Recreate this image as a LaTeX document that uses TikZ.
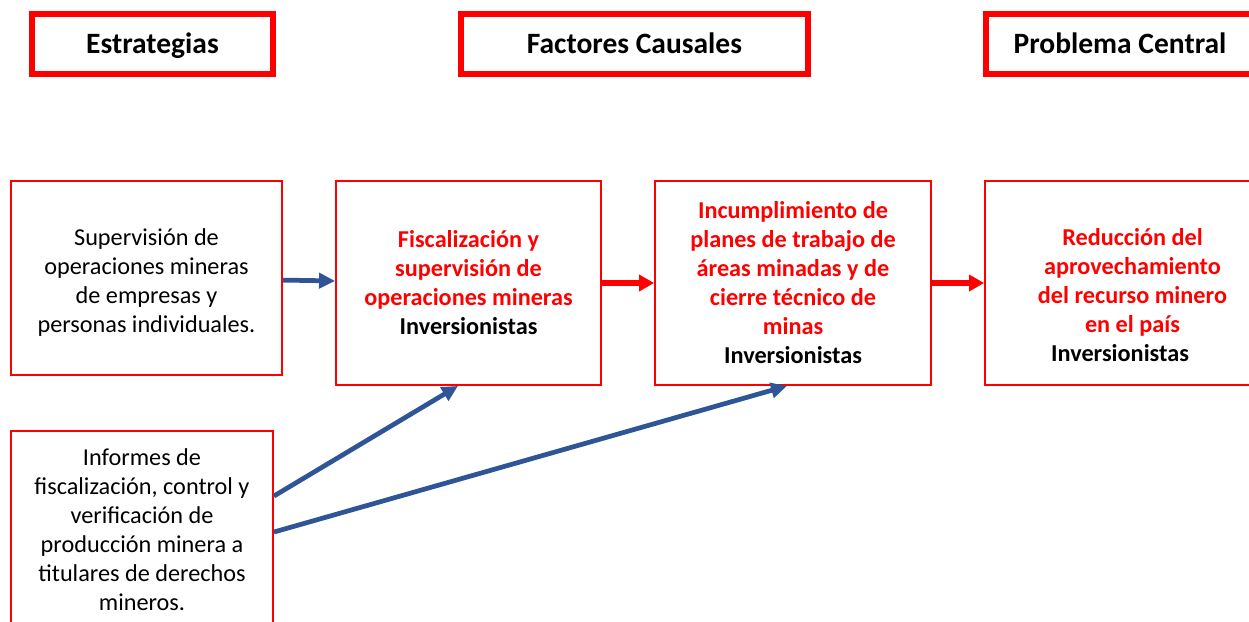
\documentclass[tikz,border=0pt]{standalone}
\usepackage{fontspec}
\setmainfont{Carlito}
\usepackage{xcolor}
\usepackage{tikz}
\usetikzlibrary{arrows.meta,positioning,calc}

\definecolor{rojo}{HTML}{FF0000}
\definecolor{azul}{HTML}{2F5597}

\begin{document}
\begin{tikzpicture}[
  x=0.02cm, y=-0.02cm,
  every node/.style={align=center,inner sep=0pt,font=\fontsize{13.8}{16.5}\selectfont},
  titulo/.style={draw=rojo,line width=3.4pt,minimum height=1.2cm,text height=14.2pt,text depth=3.5pt,font=\fontsize{16.8}{19}\selectfont\bfseries},
  caja/.style={draw=rojo,line width=1.1pt,minimum height=4.08cm},
  causa/.style={text=rojo,font=\fontsize{13.8}{16.5}\selectfont\bfseries},
  flechaazul/.style={draw=azul,line width=2.7pt,-{Triangle[length=0.32cm,width=0.3cm]}},
  flecharoja/.style={draw=rojo,line width=3pt,-{Triangle[length=0.3cm,width=0.32cm]}},
]
\useasboundingbox (0,0) rectangle (1249,622);

% encabezados
\node[titulo,minimum width=4.82cm] (estr) at (152.5,44) {Estrategias};
\node[titulo,minimum width=6.94cm] (fact) at (634.5,44) {Factores Causales};
\node[titulo,minimum width=5.36cm] (prob) at (1120,44) {Problema Central};

% cajas
\node[caja,minimum width=5.42cm,minimum height=3.88cm] (superv) at (146.5,278)
  {\mbox{}\\[-0.08cm]Supervisión de\\operaciones mineras\\de empresas y\\personas individuales.};
\node[caja,causa,minimum width=5.3cm] (fisc) at (468.5,283)
  {Fiscalización y\\supervisión de\\operaciones mineras\\\textcolor{black}{Inversionistas}};
\node[caja,causa,minimum width=5.52cm] (incum) at (793,283)
  {Incumplimiento de\\planes de trabajo de\\áreas minadas y de\\cierre técnico de\\minas\\\textcolor{black}{Inversionistas}};
\node[caja,causa,minimum width=5.9cm] (reduc) at (1132.5,283)
  {\mbox{}\\[0.24cm]Reducción del\\aprovechamiento\\del recurso minero\\en el país\\\textcolor{black}{Inversionistas\kern0.5cm}};
\node[caja,minimum width=5.24cm,minimum height=3.94cm] (inform) at (142,529.5)
  {Informes de\\fiscalización, control y\\verificación de\\producción minera a\\titulares de derechos\\mineros.};

% flechas
\draw[flechaazul] (superv) -- (fisc);
\draw[flecharoja] (fisc) -- (incum);
\draw[flecharoja] (incum) -- (reduc);
\draw[flechaazul] ([yshift=-1.32cm]inform.north east) -- ([xshift=-0.21cm]fisc.south);
\draw[flechaazul] ([yshift=-2.04cm]inform.north east) -- ([xshift=-0.12cm]incum.south);
\end{tikzpicture}
\end{document}
